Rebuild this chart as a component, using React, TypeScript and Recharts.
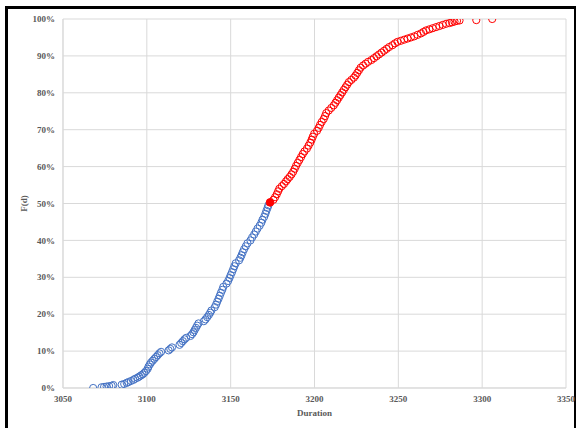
import React from 'react';
import { ScatterChart, Scatter, XAxis, YAxis, CartesianGrid, Label } from 'recharts';

const xTicks = [3050, 3100, 3150, 3200, 3250, 3300, 3350];
const yTicks = [0, 10, 20, 30, 40, 50, 60, 70, 80, 90, 100];

const blueX = [3068, 3073, 3074.5, 3076, 3077.5, 3079, 3080, 3085, 3086.5, 3088, 3089, 3090.5, 3092, 3093, 3094.5, 3095.5, 3096.5, 3097.5, 3098.5, 3099.5, 3100.5, 3101, 3101.8, 3102.5, 3103.5, 3104.5, 3105.5, 3106.5, 3107.5, 3108.5, 3113, 3114, 3115, 3119.5, 3120.5, 3121.5, 3122.5, 3123.5, 3126, 3127, 3127.8, 3128.5, 3129.3, 3130, 3130.8, 3134, 3135, 3136, 3137, 3137.8, 3138.5, 3140.5, 3141.3, 3142, 3142.8, 3143.5, 3144.2, 3145, 3145.6, 3147.5, 3148.5, 3149.3, 3150, 3150.8, 3151.5, 3152.2, 3153, 3155, 3155.8, 3156.5, 3157.2, 3158, 3159, 3160, 3161.8, 3162.8, 3164, 3165, 3166, 3167.3, 3168.3, 3169, 3170, 3170.7, 3171.3, 3172, 3172.5];
const blueY = [0, 0.2, 0.3, 0.4, 0.5, 0.6, 0.8, 0.9, 1.1, 1.4, 1.6, 1.9, 2.2, 2.5, 2.8, 3.1, 3.4, 3.7, 4.1, 4.6, 5.2, 5.8, 6.4, 6.9, 7.4, 7.9, 8.4, 8.9, 9.4, 9.8, 10.2, 10.6, 11, 11.7, 12.2, 12.7, 13.2, 13.6, 14.1, 14.6, 15.1, 15.7, 16.3, 16.9, 17.5, 18.1, 18.6, 19.2, 19.8, 20.4, 21, 21.9, 22.6, 23.4, 24.2, 25, 25.8, 26.6, 27.4, 28.3, 29, 29.8, 30.6, 31.4, 32.2, 33, 33.8, 34.6, 35.3, 36, 36.8, 37.6, 38.4, 39.2, 40, 40.8, 41.6, 42.4, 43.2, 44, 44.8, 45.6, 46.4, 47.2, 48, 48.8, 49.5];

const medianX = [3173.5];
const medianY = [50.3];

const redX = [3175.5, 3176.5, 3177.5, 3178.3, 3179, 3180.5, 3181.8, 3183, 3184, 3185.2, 3186.3, 3187.3, 3188.2, 3189, 3190, 3191, 3192, 3193, 3194, 3195.5, 3196.5, 3197.5, 3198.3, 3199, 3199.8, 3201.5, 3202.5, 3203.3, 3204.3, 3205.5, 3206.3, 3207, 3208.5, 3210, 3211.5, 3212.5, 3213.5, 3214.5, 3215.5, 3216.5, 3217.5, 3218.5, 3219.5, 3220.5, 3222, 3223.5, 3224.5, 3225.5, 3226.5, 3227.5, 3229, 3230.5, 3232, 3234, 3235.5, 3237, 3238.5, 3240, 3241.5, 3243, 3244.5, 3246.5, 3248, 3249.5, 3251.5, 3253.5, 3255.5, 3257.5, 3259.5, 3261.5, 3263.5, 3265, 3266.5, 3268.5, 3270.5, 3272.5, 3274.5, 3276.5, 3278.5, 3280.5, 3282, 3283.5, 3285, 3286.5, 3296.5, 3306];
const redY = [51, 51.7, 52.5, 53.3, 54, 54.7, 55.3, 56, 56.6, 57.2, 57.9, 58.6, 59.4, 60.2, 61, 61.8, 62.6, 63.4, 64.1, 64.9, 65.7, 66.5, 67.3, 68.1, 68.9, 69.7, 70.5, 71.3, 72.1, 72.9, 73.7, 74.5, 75.2, 75.9, 76.6, 77.3, 78, 78.7, 79.4, 80.1, 80.8, 81.5, 82.2, 82.9, 83.5, 84.1, 84.7, 85.4, 86.1, 86.8, 87.4, 87.9, 88.4, 88.9, 89.4, 89.9, 90.4, 90.9, 91.4, 91.9, 92.4, 92.9, 93.4, 93.8, 94.1, 94.4, 94.7, 95, 95.3, 95.7, 96.1, 96.5, 96.9, 97.2, 97.5, 97.8, 98.1, 98.4, 98.7, 98.9, 99.1, 99.3, 99.5, 99.6, 99.7, 100];

const zip = (xs: number[], ys: number[]) => xs.map((x, i) => ({ x, y: ys[i] }));
const blueData = zip(blueX, blueY);
const medianData = zip(medianX, medianY);
const redData = zip(redX, redY);

const FONT = '"Liberation Serif", "Times New Roman", serif';
const TEXT_COLOR = '#595959';
const GRID = '#d9d9d9';

const openCircle = (color: string) => (props: any) => (
  <circle cx={props.cx} cy={props.cy} r={3.6} fill="none" stroke={color} strokeWidth={1} />
);
const filledCircle = (color: string) => (props: any) => (
  <circle cx={props.cx} cy={props.cy} r={3.8} fill={color} stroke={color} strokeWidth={1} />
);

const tickStyle = { fontFamily: FONT, fontSize: 9, fontWeight: 700, fill: TEXT_COLOR };

export default function App() {
  return (
    <div style={{ position: 'absolute', left: 0, top: 0, width: 581, height: 428, overflow: 'hidden', background: '#fff' }}>
      <div
        style={{
          position: 'absolute',
          left: 5,
          top: 6,
          width: 571,
          height: 440,
          borderLeft: '3px solid #000',
          borderTop: '3px solid #000',
          borderRight: '2px solid #000',
          boxSizing: 'border-box',
        }}
      />
      <div style={{ position: 'absolute', left: 0, top: 0 }}>
        <ScatterChart width={581} height={428} margin={{ top: 19, right: 15, bottom: 0, left: 0 }}>
          <CartesianGrid stroke={GRID} strokeWidth={1} />
          <XAxis
            type="number"
            dataKey="x"
            domain={[3050, 3350]}
            ticks={xTicks}
            interval={0}
            allowDataOverflow
            height={40}
            axisLine={{ stroke: GRID }}
            tickLine={false}
            tickSize={8}
            tickMargin={0}
            tick={tickStyle}
          >
            <Label
              content={(p: any) => {
                const vb = p.viewBox || {};
                return (
                  <text
                    x={vb.x + vb.width / 2}
                    y={vb.y + 28}
                    textAnchor="middle"
                    style={{ fontFamily: FONT, fontSize: 9, fontWeight: 700, fill: TEXT_COLOR }}
                  >
                    Duration
                  </text>
                );
              }}
            />
          </XAxis>
          <YAxis
            type="number"
            dataKey="y"
            domain={[0, 100]}
            ticks={yTicks}
            interval={0}
            allowDataOverflow
            width={63}
            axisLine={{ stroke: GRID }}
            tickLine={false}
            tickSize={8}
            tickMargin={0}
            tick={tickStyle}
            tickFormatter={(v: number) => `${v}%`}
          >
            <Label
              content={(p: any) => {
                const vb = p.viewBox || {};
                const cx = 27;
                const cy = vb.y + vb.height / 2;
                return (
                  <text
                    x={cx}
                    y={cy}
                    textAnchor="middle"
                    transform={`rotate(-90, ${cx}, ${cy})`}
                    style={{ fontFamily: FONT, fontSize: 9, fontWeight: 700, fill: TEXT_COLOR }}
                  >
                    F(d)
                  </text>
                );
              }}
            />
          </YAxis>
          <Scatter data={blueData} shape={openCircle('#4472C4')} isAnimationActive={false} />
          <Scatter data={redData} shape={openCircle('#FF0000')} isAnimationActive={false} />
          <Scatter data={medianData} shape={filledCircle('#FF0000')} isAnimationActive={false} />
        </ScatterChart>
      </div>
    </div>
  );
}
